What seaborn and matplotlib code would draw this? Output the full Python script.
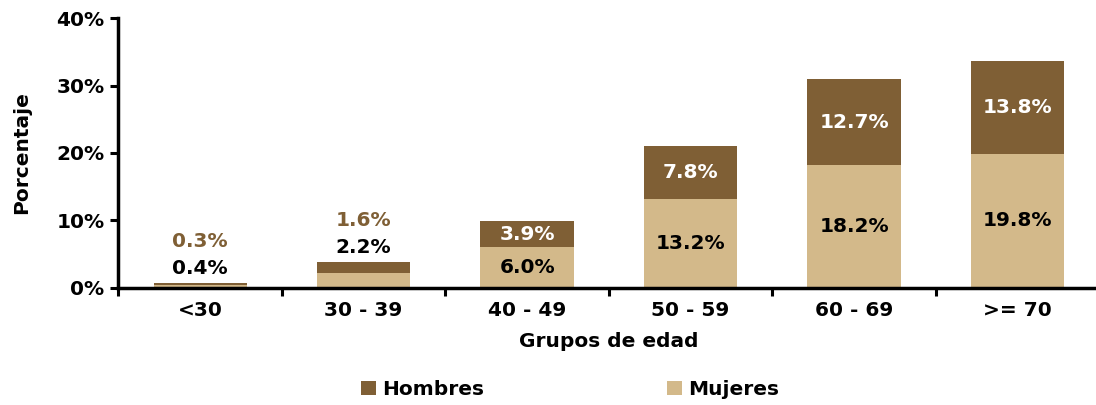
import matplotlib
matplotlib.use("Agg")
import matplotlib.pyplot as plt
import seaborn as sns
import pandas as pd
import numpy as np

categories = ["<30", "30 - 39", "40 - 49", "50 - 59", "60 - 69", ">= 70"]
mujeres = [0.4, 2.2, 6.0, 13.2, 18.2, 19.8]
hombres = [0.3, 1.6, 3.9, 7.8, 12.7, 13.8]

c_h = "#7f5f35"
c_m = "#d3b98a"

sns.set_theme(style="white")
plt.rcParams["font.family"] = ["DejaVu Sans"]
plt.rcParams["font.weight"] = "bold"
plt.rcParams["text.color"] = "black"
plt.rcParams["axes.labelcolor"] = "black"
plt.rcParams["xtick.color"] = "black"
plt.rcParams["ytick.color"] = "black"

df = pd.DataFrame({"grupo": categories, "Mujeres": mujeres, "Hombres": hombres})
df["total"] = df["Mujeres"] + df["Hombres"]

fig = plt.figure(figsize=(10.96, 4.05), dpi=100)
ax = fig.add_axes([0.108, 0.29, 0.895, 0.665])

sns.barplot(data=df, x="grupo", y="total", color=c_h, width=0.57, ax=ax,
            saturation=1, label="Hombres", linewidth=0, edgecolor="none")
sns.barplot(data=df, x="grupo", y="Mujeres", color=c_m, width=0.57, ax=ax,
            saturation=1, label="Mujeres", linewidth=0, edgecolor="none")

fs = 14.5
for i, (m, h) in enumerate(zip(mujeres, hombres)):
    t = m + h
    if t < 5:
        ax.annotate(f"{m:.1f}%", (i, t), xytext=(0, 14), textcoords="offset pixels",
                    ha="center", va="center", fontsize=fs, fontweight="bold", color="black")
        ax.annotate(f"{h:.1f}%", (i, t), xytext=(0, 41), textcoords="offset pixels",
                    ha="center", va="center", fontsize=fs, fontweight="bold", color=c_h)
    else:
        ax.text(i, m / 2, f"{m:.1f}%", ha="center", va="center", fontsize=fs,
                fontweight="bold", color="black")
        ax.text(i, m + h / 2, f"{h:.1f}%", ha="center", va="center", fontsize=fs,
                fontweight="bold", color="white")

ax.set_ylim(0, 40)
ax.set_xlim(-0.5, 5.5)
ax.set_yticks([0, 10, 20, 30, 40])
ax.set_yticklabels([f"{v}%" for v in [0, 10, 20, 30, 40]], fontsize=fs, fontweight="bold")
ax.set_xticks(range(len(categories)))
ax.set_xticklabels(categories, fontsize=fs, fontweight="bold")
ax.set_xticks(np.arange(-0.5, 6.0, 1.0), minor=True)
ax.tick_params(axis="x", which="major", length=0, pad=10, bottom=True)
ax.tick_params(axis="x", which="minor", length=6, width=2.2, color="black",
               direction="out", bottom=True)
ax.tick_params(axis="y", length=6, width=2.2, color="black", direction="out", pad=4, left=True)
for s in ["top", "right"]:
    ax.spines[s].set_visible(False)
for s in ["left", "bottom"]:
    ax.spines[s].set_linewidth(2.5)
    ax.spines[s].set_color("black")
ax.set_xlabel("Grupos de edad", fontsize=fs, fontweight="bold", labelpad=8)
ax.set_ylabel("Porcentaje", fontsize=fs, fontweight="bold", labelpad=18)
ax.grid(False)

handles, labels = ax.get_legend_handles_labels()
if ax.get_legend() is not None:
    ax.get_legend().remove()
leg = fig.legend(handles, labels, loc="lower center", bbox_to_anchor=(0.52, -0.03), ncol=2,
                 frameon=False, fontsize=fs, handlelength=0.75, handleheight=0.75,
                 handletextpad=0.3, columnspacing=9.1)
for t in leg.get_texts():
    t.set_fontweight("bold")

fig.savefig("out.png", dpi=100)
